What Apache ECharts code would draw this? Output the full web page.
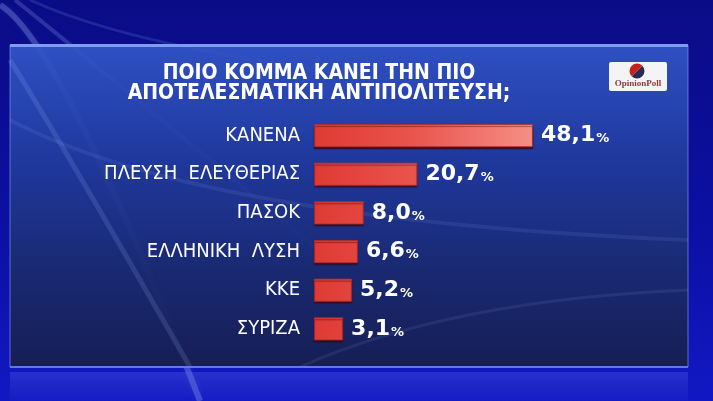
<!DOCTYPE html>
<html>
<head>
<meta charset="utf-8">
<script src="https://cdn.jsdelivr.net/npm/echarts@6/dist/echarts.min.js"></script>
<style>html,body{margin:0;padding:0;background:#0b0d90;}#c{width:713px;height:401px;}</style>
</head>
<body>
<div id="c"></div>
<script>
const titleLines = ['ΠΟΙΟ ΚΟΜΜΑ ΚΑΝΕΙ ΤΗΝ ΠΙΟ', 'ΑΠΟΤΕΛΕΣΜΑΤΙΚΗ ΑΝΤΙΠΟΛΙΤΕΥΣΗ;'];
const categories = ['ΚΑΝΕΝΑ', 'ΠΛΕΥΣΗ  ΕΛΕΥΘΕΡΙΑΣ', 'ΠΑΣΟΚ', 'ΕΛΛΗΝΙΚΗ  ΛΥΣΗ', 'ΚΚΕ', 'ΣΥΡΙΖΑ'];
const values = [48.1, 20.7, 8.0, 6.6, 5.2, 3.1];
const logoText = 'OpinionPoll';

const chart = echarts.init(document.getElementById('c'), null, {renderer: 'canvas'});
const fmt = v => v.toFixed(1).replace('.', ',');
const streak = (x1, y1, cx, cy, x2, y2, a, w, z) => ({
  type: 'bezierCurve', silent: true, z: z,
  shape: {x1: x1, y1: y1, cpx1: cx, cpy1: cy, x2: x2, y2: y2},
  style: {stroke: 'rgba(170,195,255,' + a + ')', lineWidth: w, fill: null, shadowBlur: 6, shadowColor: 'rgba(170,195,255,' + a + ')'}
});

chart.setOption({
  animation: false,
  backgroundColor: {
    type: 'linear', x: 0, y: 0, x2: 0, y2: 1,
    colorStops: [{offset: 0, color: '#0a0c86'}, {offset: 0.6, color: '#0c10a4'}, {offset: 1, color: '#1218c4'}]
  },
  graphic: [
    streak(0, 5, 60, 40, 200, 401, 0.28, 6, -10),
    streak(15, 0, 90, 60, 330, 260, 0.2, 4, -10),
    streak(30, 0, 160, 60, 500, 90, 0.14, 3, -10),
    {type: 'rect', silent: true, z: -9, shape: {x: 10, y: 45, width: 678, height: 322},
      style: {fill: {type: 'linear', x: 0, y: 0, x2: 0, y2: 1, colorStops: [
        {offset: 0, color: 'rgba(50,86,200,0.92)'}, {offset: 0.35, color: 'rgba(33,60,158,0.92)'},
        {offset: 0.7, color: 'rgba(26,42,110,0.95)'}, {offset: 1, color: 'rgba(22,30,80,0.97)'}]},
        stroke: 'rgba(120,150,235,0.7)', lineWidth: 1}},
    streak(10, 60, 60, 140, 190, 367, 0.15, 5, -8),
    streak(10, 120, 200, 220, 688, 240, 0.1, 4, -8),
    streak(300, 367, 450, 300, 688, 290, 0.1, 3, -8),
    {type: 'line', silent: true, z: -7, shape: {x1: 10, y1: 45.5, x2: 688, y2: 45.5}, style: {stroke: '#7f9cf0', lineWidth: 3}},
    {type: 'line', silent: true, z: -7, shape: {x1: 10, y1: 367, x2: 688, y2: 367}, style: {stroke: '#5d7be0', lineWidth: 2}},
    {type: 'rect', silent: true, z: -9, shape: {x: 10, y: 372, width: 678, height: 29},
      style: {fill: {type: 'linear', x: 0, y: 0, x2: 0, y2: 1, colorStops: [{offset: 0, color: 'rgba(90,110,230,0.3)'}, {offset: 1, color: 'rgba(90,110,230,0.04)'}]}}},
    {type: 'rect', silent: true, z: 5, shape: {x: 609, y: 62, width: 58, height: 29, r: 2}, style: {fill: '#f4f4f6'}},
    {type: 'sector', silent: true, z: 6, shape: {cx: 637, cy: 71, r: 7.5, startAngle: -Math.PI * 0.25, endAngle: Math.PI * 0.75, clockwise: true}, style: {fill: '#2b2b52'}},
    {type: 'sector', silent: true, z: 6, shape: {cx: 637, cy: 71, r: 7.5, startAngle: Math.PI * 0.75, endAngle: Math.PI * 1.75, clockwise: true}, style: {fill: '#c8201c'}},
    {type: 'text', silent: true, z: 6, x: 638, y: 84, style: {text: logoText, fill: '#8a3a3a', font: 'bold 9px "Liberation Serif", "DejaVu Serif", serif', align: 'center', verticalAlign: 'middle'}}
  ],
  title: {
    text: titleLines.join('\n'),
    left: 319, top: 63, textAlign: 'center', padding: 0,
    textStyle: {color: '#ffffff', fontFamily: '"DejaVu Sans Condensed", "DejaVu Sans", sans-serif', fontWeight: 'bold', fontSize: 21, lineHeight: 20.5}
  },
  grid: {left: 314, right: 129.8, top: 116.2, bottom: 52.8, containLabel: false},
  xAxis: {
    type: 'value', min: -3.8, max: 60, startValue: -3.8,
    show: false, splitLine: {show: false}
  },
  yAxis: {
    type: 'category', data: categories, inverse: true,
    axisLine: {show: false}, axisTick: {show: false}, splitLine: {show: false},
    axisLabel: {color: '#ffffff', fontFamily: '"DejaVu Sans Condensed", sans-serif', fontSize: 20, margin: 14}
  },
  series: [{
    type: 'bar', data: values, barWidth: 23,
    itemStyle: {
      color: {type: 'linear', x: 314, y: 0, x2: 533, y2: 0, global: true, colorStops: [
        {offset: 0, color: '#de3a34'}, {offset: 0.45, color: '#e9544c'}, {offset: 1, color: '#f58f86'}]},
      borderColor: '#b82a26', borderWidth: 0.8,
      shadowColor: 'rgba(60,0,0,0.6)', shadowOffsetY: 2, shadowBlur: 1
    },
    label: {
      show: true, position: 'right', distance: 8,
      formatter: p => '{v|' + fmt(p.value) + '}{p|%}',
      rich: {
        v: {color: '#ffffff', fontFamily: '"DejaVu Sans", sans-serif', fontWeight: 'bold', fontSize: 22},
        p: {color: '#ffffff', fontFamily: '"DejaVu Sans", sans-serif', fontWeight: 'bold', fontSize: 13, padding: [7, 0, 0, 1]}
      }
    }
  }]
});
</script>
</body>
</html>
